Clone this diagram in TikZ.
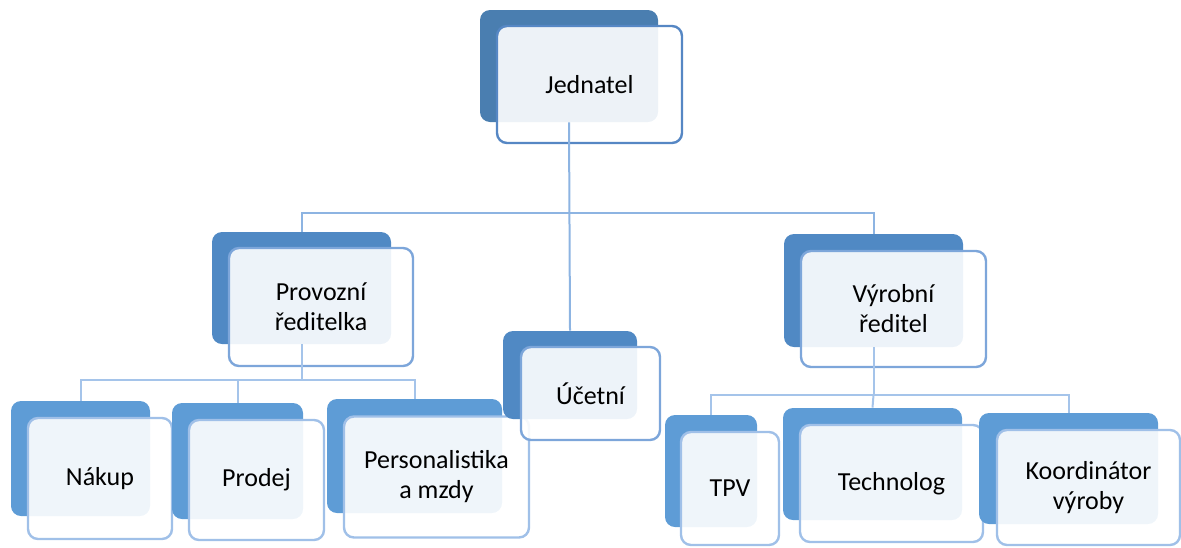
\documentclass[tikz,border=0pt]{standalone}
\usepackage{fontspec}
\setmainfont{Carlito}

\definecolor{darkTop}{RGB}{74,126,176}
\definecolor{darkMid}{RGB}{80,137,196}
\definecolor{darkLow}{RGB}{94,156,214}
\definecolor{edgeTop}{RGB}{86,135,196}
\definecolor{edgeMid}{RGB}{125,166,218}
\definecolor{edgeLow}{RGB}{160,192,232}
\definecolor{linkMid}{RGB}{141,180,226}
\definecolor{linkLow}{RGB}{165,196,234}

\begin{document}
\begin{tikzpicture}[x=0.5pt, y=-0.5pt,
    back/.style={fill=#1, rounded corners=5pt, inner sep=0pt},
    front/.style={draw=#1, line width=1.2pt, fill=white, fill opacity=0.9, text opacity=1,
        rounded corners=5pt, inner sep=0pt, align=center, font=\fontsize{13}{15}\selectfont},
    link/.style={draw=#1, line width=1pt}]
    \useasboundingbox (0,0) rectangle (1181,547);

    % third level
    \node[back=darkLow, minimum width=69.5pt, minimum height=57.5pt] (nakB) at (80.5,458.5) {};
    \node[front=edgeLow, minimum width=72pt, minimum height=60.5pt] (nak) at (100,478.5) {Nákup};
    \node[back=darkLow, minimum width=65.5pt, minimum height=58pt] (proB) at (237.5,461) {};
    \node[front=edgeLow, minimum width=67.5pt, minimum height=60pt] (pro) at (256.5,480) {Prodej};
    \node[back=darkLow, minimum width=87.5pt, minimum height=57pt] (perB) at (414.5,456) {};
    \node[front=edgeLow, minimum width=92.5pt, minimum height=60.5pt] (per) at (436.5,477) {Personalistika\\a mzdy};
    \node[back=darkLow, minimum width=46pt, minimum height=56pt] (tpvB) at (711,471) {};
    \node[front=edgeLow, minimum width=49pt, minimum height=56.5pt] (tpv) at (730,488.5) {TPV};
    \node[back=darkLow, minimum width=89.5pt, minimum height=56pt] (tecB) at (872.5,464) {};
    \node[front=edgeLow, minimum width=91.5pt, minimum height=58.5pt] (tec) at (891.5,483.5) {Technolog};
    \node[back=darkLow, minimum width=89.5pt, minimum height=55.5pt] (korB) at (1068.5,468.5) {};
    \node[front=edgeLow, minimum width=91.5pt, minimum height=57.5pt] (kor) at (1088.5,487.5) {Koordinátor\\výroby};

    % second level
    \node[back=darkMid, minimum width=89.5pt, minimum height=56pt] (provB) at (301.5,288) {};
    \node[front=edgeMid, minimum width=92pt, minimum height=59pt] (prov) at (321,307) {Provozní\\ředitelka};
    \node[back=darkMid, minimum width=89.5pt, minimum height=56.5pt] (vyrB) at (873.5,290.5) {};
    \node[front=edgeMid, minimum width=92.5pt, minimum height=58pt] (vyr) at (893.5,309) {Výrobní\\ředitel};
    \node[back=darkMid, minimum width=67pt, minimum height=44pt] (ucB) at (570,375) {};
    \node[front=edgeMid, minimum width=69.5pt, minimum height=46.5pt] (uc) at (590.5,393.5) {Účetní};

    % top
    \node[back=darkTop, minimum width=89pt, minimum height=56pt] (jedB) at (569,66) {};
    \node[front=edgeTop, minimum width=92.5pt, minimum height=58.5pt] (jed) at (589.5,84.5) {Jednatel};

    % connectors
    \coordinate (busTop) at (569,213);
    \coordinate (busProv) at (301.5,380);
    \coordinate (busVyr) at (873.5,395);

    \draw[link=linkMid] (jedB.south) -- (ucB.north);
    \draw[link=linkMid] (provB.north) -- (provB.north |- busTop) -- (vyrB.north |- busTop) -- (vyrB.north);

    \draw[link=linkLow] (provB.south) -- (busProv);
    \draw[link=linkLow] (nakB.north) -- (nakB.north |- busProv) -- (perB.north |- busProv) -- (perB.north);
    \draw[link=linkLow] (busProv -| proB.north) -- (proB.north);

    \draw[link=linkLow] (vyrB.south) -- (busVyr);
    \draw[link=linkLow] (tpvB.north) -- (tpvB.north |- busVyr) -- (korB.north |- busVyr) -- (korB.north);
    \draw[link=linkLow] (busVyr) -- (tecB.north);
\end{tikzpicture}
\end{document}
